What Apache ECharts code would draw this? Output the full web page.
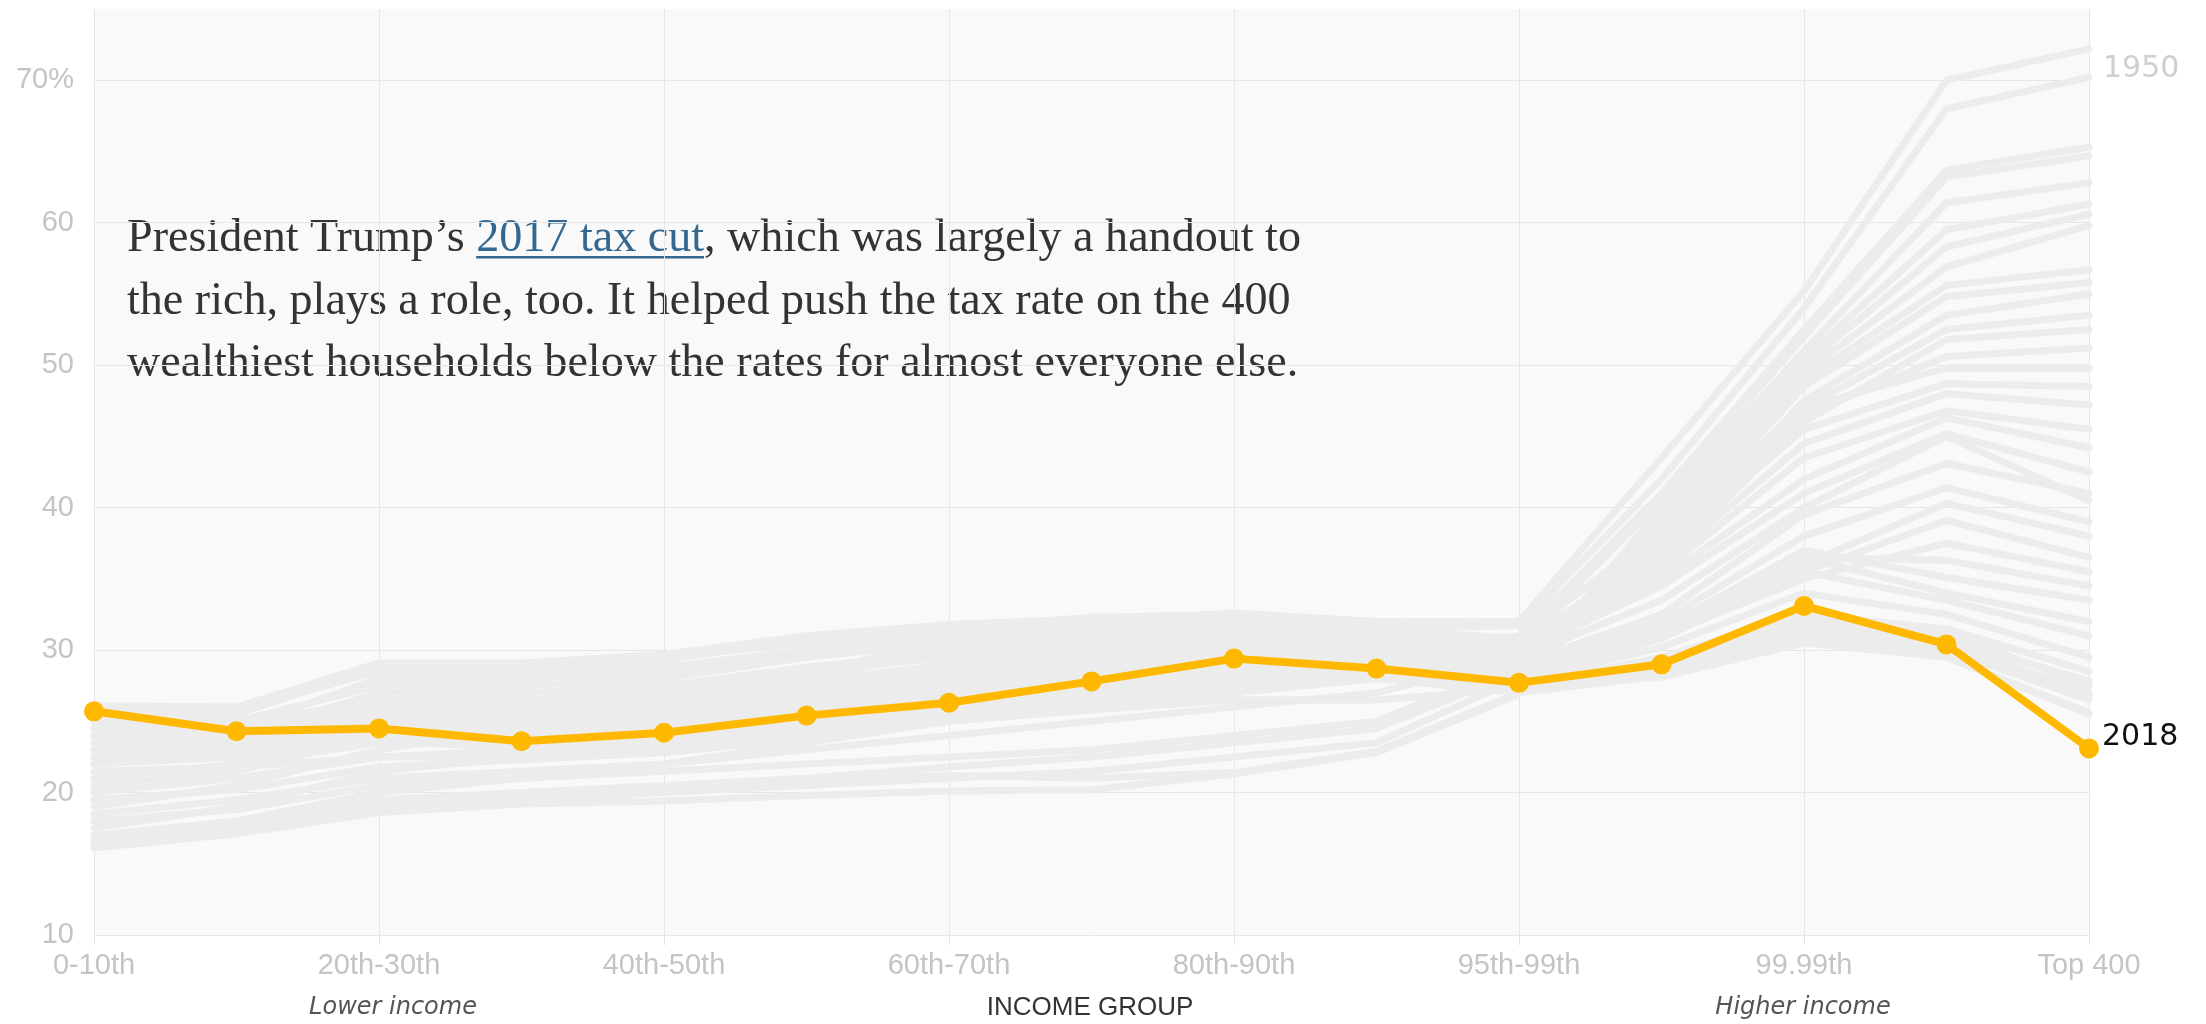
<!DOCTYPE html>
<html>
<head>
<meta charset="utf-8">
<script src="https://cdn.jsdelivr.net/npm/echarts@6/dist/echarts.min.js"></script>
<style>
html,body{margin:0;padding:0;background:#fff;}
#chart{width:2206px;height:1024px;}
</style>
</head>
<body>
<div id="chart"></div>
<script>
// ---- data ----
const categories = ['0-10th','10th-20th','20th-30th','30th-40th','40th-50th','50th-60th','60th-70th','70th-80th','80th-90th','90th-95th','95th-99th','99th-99.9th','99.99th','Top 0.01%','Top 400'];
const yTicks = [10, 20, 30, 40, 50, 60, 70];

const r2018 = [25.7, 24.3, 24.5, 23.6, 24.2, 25.4, 26.3, 27.8, 29.4, 28.7, 27.7, 29.0, 33.1, 30.4, 23.1];

const r1950 = [20.5, 21.5, 24.0, 25.0, 26.5, 28.5, 30.5, 31.5, 32.3, 32.0, 32.0, 43.5, 55.2, 70.0, 72.2];
const r1951 = [19.0, 20.5, 23.0, 24.5, 26.0, 28.0, 30.0, 31.0, 31.8, 31.5, 31.7, 42.0, 54.0, 68.0, 70.2];
const r1952 = [17.5, 19.0, 21.5, 22.5, 23.5, 25.0, 26.5, 27.5, 28.5, 29.5, 31.0, 41.0, 52.5, 63.7, 65.3];
const r1953 = [16.8, 18.0, 20.0, 21.0, 22.0, 23.5, 25.0, 26.0, 27.0, 28.0, 30.5, 40.5, 52.0, 63.2, 64.7];
const r1954 = [16.2, 17.2, 18.8, 19.5, 20.0, 20.5, 21.0, 21.5, 22.5, 23.5, 28.0, 40.0, 51.0, 61.4, 62.8];
const r1955 = [16.5, 17.5, 19.2, 19.8, 20.2, 20.8, 21.2, 21.0, 21.4, 22.9, 27.0, 39.5, 50.5, 59.5, 61.3];
const r1956 = [16.1, 17.1, 18.6, 19.2, 19.4, 19.8, 20.1, 20.2, 21.3, 22.8, 26.9, 39.0, 50.0, 58.3, 60.6];
const r1957 = [17.0, 18.0, 19.5, 20.0, 20.5, 21.0, 21.8, 22.5, 23.5, 24.5, 28.5, 38.5, 49.5, 56.9, 59.8];
const r1958 = [18.0, 18.8, 20.5, 21.0, 21.5, 22.0, 22.5, 23.0, 24.0, 25.0, 29.0, 38.0, 49.0, 55.6, 56.7];
const r1960 = [18.5, 19.5, 21.0, 21.5, 22.0, 23.0, 24.0, 25.0, 26.0, 27.0, 29.5, 37.5, 48.5, 54.8, 55.8];
const r1962 = [19.5, 20.2, 21.8, 22.3, 22.8, 23.8, 25.0, 26.0, 27.0, 28.0, 30.1, 37.0, 47.5, 53.5, 55.0];
const r1964 = [20.0, 21.0, 22.5, 23.0, 23.5, 24.5, 25.5, 26.5, 27.5, 28.5, 29.8, 36.5, 47.0, 52.5, 53.5];
const r1966 = [21.0, 22.0, 23.5, 24.0, 24.5, 25.5, 26.5, 27.5, 28.5, 29.0, 29.6, 36.0, 46.0, 51.8, 52.5];
const r1968 = [22.0, 23.0, 25.0, 25.5, 26.0, 27.5, 28.5, 29.5, 30.5, 30.5, 30.5, 37.0, 46.5, 50.6, 51.2];
const r1970 = [22.5, 23.5, 26.0, 26.5, 27.0, 28.5, 29.5, 30.5, 31.5, 31.5, 30.8, 38.5, 47.0, 49.8, 49.8];
const r1972 = [23.0, 24.0, 27.0, 27.5, 28.0, 29.5, 30.5, 31.5, 32.0, 31.8, 30.2, 37.0, 45.5, 48.7, 48.5];
const r1974 = [24.0, 24.5, 28.0, 28.3, 28.8, 30.0, 31.0, 32.0, 32.6, 32.0, 29.8, 36.0, 44.5, 48.0, 47.2];
const r1976 = [25.0, 25.5, 28.8, 29.0, 29.5, 30.5, 31.5, 32.3, 32.5, 31.5, 30.0, 35.5, 43.5, 46.8, 45.5];
const r1978 = [26.1, 26.0, 29.1, 29.1, 29.7, 31.0, 31.8, 32.2, 32.3, 31.2, 29.5, 35.0, 42.0, 46.3, 44.2];
const r1980 = [25.5, 25.8, 28.5, 28.8, 29.3, 30.8, 31.5, 32.0, 32.0, 31.0, 29.8, 34.5, 41.0, 45.2, 42.5];
const r1982 = [24.5, 25.0, 27.5, 28.0, 28.5, 29.8, 30.8, 31.5, 31.5, 30.5, 29.5, 33.5, 40.0, 45.0, 40.5];
const r1984 = [24.0, 24.5, 26.5, 27.0, 27.5, 28.8, 29.8, 30.5, 31.0, 30.0, 29.0, 32.5, 39.5, 43.1, 41.0];
const r1986 = [23.5, 24.0, 25.5, 26.0, 26.5, 27.8, 29.0, 30.0, 30.5, 29.8, 28.8, 32.0, 38.0, 41.4, 39.0];
const r1988 = [23.0, 23.5, 24.5, 24.5, 25.0, 26.0, 27.0, 28.0, 29.0, 29.0, 28.5, 31.5, 36.0, 40.3, 38.0];
const r1990 = [22.5, 23.0, 24.0, 23.8, 24.3, 25.5, 26.5, 27.5, 28.5, 28.5, 28.5, 31.0, 35.5, 39.1, 36.5];
const r1992 = [22.0, 22.5, 23.5, 23.3, 24.0, 25.0, 26.0, 27.0, 28.0, 28.0, 28.3, 31.0, 35.0, 37.5, 35.5];
const r1994 = [23.0, 23.5, 25.0, 25.0, 25.5, 26.5, 27.5, 28.5, 29.5, 29.0, 28.5, 31.5, 36.5, 36.3, 34.5];
const r1996 = [23.5, 24.0, 25.5, 25.5, 26.0, 27.0, 28.0, 29.0, 30.0, 29.5, 28.4, 31.5, 37.0, 35.1, 33.5];
const r1998 = [24.0, 24.5, 26.0, 25.5, 26.0, 27.0, 28.0, 29.0, 30.0, 29.5, 28.2, 31.2, 36.5, 34.0, 32.0];
const r2000 = [24.5, 24.8, 26.5, 26.0, 26.5, 27.5, 28.5, 29.5, 30.5, 30.0, 28.0, 30.8, 35.5, 33.5, 31.0];
const r2002 = [22.5, 22.8, 23.8, 23.0, 23.8, 25.0, 26.0, 27.0, 28.0, 28.0, 27.8, 30.2, 34.0, 32.5, 29.5];
const r2004 = [23.0, 23.0, 24.0, 23.2, 24.0, 25.2, 26.2, 27.0, 28.2, 28.0, 27.5, 29.5, 32.5, 31.5, 28.5];
const r2006 = [23.5, 23.5, 24.3, 23.5, 24.2, 25.3, 26.3, 27.3, 28.5, 28.3, 27.4, 29.0, 32.0, 31.2, 27.5];
const r2008 = [24.0, 23.8, 24.5, 23.8, 24.3, 25.5, 26.5, 27.5, 28.8, 28.5, 27.2, 28.5, 31.5, 30.5, 27.0];
const r2010 = [21.5, 21.8, 22.5, 22.5, 23.0, 24.0, 25.0, 25.8, 26.5, 26.5, 27.3, 28.5, 31.0, 30.0, 26.5];
const r2012 = [24.5, 24.0, 24.3, 23.5, 24.0, 25.0, 26.0, 27.0, 28.3, 28.0, 27.0, 28.2, 30.8, 29.5, 25.5];
const r2014 = [25.0, 24.5, 25.0, 24.0, 24.5, 25.5, 26.5, 27.8, 29.0, 28.5, 27.3, 28.4, 31.5, 30.8, 27.8];
const r2016 = [25.5, 24.8, 25.2, 24.2, 24.8, 25.8, 26.8, 28.0, 29.3, 28.6, 27.4, 28.2, 31.0, 30.2, 26.8];
const r2017 = [25.8, 25.0, 25.3, 24.3, 24.8, 25.8, 26.8, 28.0, 29.5, 28.8, 27.5, 28.1, 30.5, 29.5, 25.6];

const grayYears = ['1950','1951','1952','1953','1954','1955','1956','1957','1958','1960','1962','1964','1966','1968','1970','1972','1974','1976','1978','1980','1982','1984','1986','1988','1990','1992','1994','1996','1998','2000','2002','2004','2006','2008','2010','2012','2014','2016','2017'];
const grayRates = [r1950,r1951,r1952,r1953,r1954,r1955,r1956,r1957,r1958,r1960,r1962,r1964,r1966,r1968,r1970,r1972,r1974,r1976,r1978,r1980,r1982,r1984,r1986,r1988,r1990,r1992,r1994,r1996,r1998,r2000,r2002,r2004,r2006,r2008,r2010,r2012,r2014,r2016,r2017];

const noteLine1a = 'President Trump\u2019s ';
const noteLink = '2017 tax cut';
const noteLine1b = ', which was largely a handout to';
const noteLine2 = 'the rich, plays a role, too. It helped push the tax rate on the 400';
const noteLine3 = 'wealthiest households below the rates for almost everyone else.';

// ---- styling / layout ----
const GRAY = '#ececec';
const ORANGE = '#ffb800';
const LABEL = '#c4c4c4';
const SERIF = '"Liberation Serif", "DejaVu Serif", serif';

const cv = document.createElement('canvas').getContext('2d');
function tw(txt, size) { cv.font = size + 'px ' + SERIF; return cv.measureText(txt).width; }
const baseSize = 40;
const fullW = tw(noteLine1a + noteLink + noteLine1b, baseSize);
const noteSize = Math.round(baseSize * 1175 / fullW * 10) / 10;
const noteX = 127;
const w1a = tw(noteLine1a, noteSize);
const wLink = tw(noteLink, noteSize);
const noteFont = noteSize + 'px ' + SERIF;

function txt(x, y, s, font, fill, align) {
  return { type: 'text', x: x, y: y, silent: true,
    style: { text: s, font: font, fill: fill, textAlign: align || 'left', textVerticalAlign: 'middle', align: align || 'left', verticalAlign: 'middle' } };
}

const series = grayRates.map((vals, k) => ({
  name: grayYears[k],
  type: 'line',
  data: vals,
  silent: true,
  showSymbol: false,
  symbol: 'none',
  z: 2,
  lineStyle: { color: GRAY, width: 7, cap: 'round', join: 'round' },
  itemStyle: { color: GRAY },
  emphasis: { disabled: true },
  endLabel: grayYears[k] === '1950' ? {
    show: true, formatter: '1950', color: '#cfcfcf', fontSize: 30,
    fontFamily: 'DejaVu Sans', distance: 14, offset: [0, 20]
  } : { show: false }
}));

series.push({
  name: '2018',
  type: 'line',
  data: r2018,
  z: 5,
  symbol: 'circle',
  symbolSize: 20,
  showSymbol: true,
  lineStyle: { color: ORANGE, width: 8 },
  itemStyle: { color: ORANGE },
  emphasis: { disabled: true },
  endLabel: { show: true, formatter: '2018', color: '#111', fontSize: 30, fontFamily: 'DejaVu Sans', distance: 13, offset: [0, -11] }
});

const chart = echarts.init(document.getElementById('chart'), null, { renderer: 'canvas' });
chart.setOption({
  animation: false,
  backgroundColor: '#ffffff',
  grid: { left: 94, right: 117, top: 9, bottom: 89, show: true, backgroundColor: '#f9f9f9', borderWidth: 0 },
  xAxis: {
    type: 'category',
    data: categories,
    boundaryGap: false,
    axisLine: { show: false },
    axisTick: { show: true, interval: 1, length: 10, lineStyle: { color: '#e3e3e3', width: 1 } },
    axisLabel: { interval: 1, color: LABEL, fontSize: 29, fontFamily: 'Liberation Sans', margin: 16 },
    splitLine: { show: true, interval: 1, lineStyle: { color: '#e6e6e6', width: 1 } }
  },
  yAxis: {
    type: 'value',
    min: yTicks[0],
    max: 75,
    interval: 10,
    axisLine: { show: false },
    axisTick: { show: false },
    axisLabel: {
      color: LABEL, fontSize: 29, fontFamily: 'Liberation Sans', margin: 20,
      formatter: v => (v === yTicks[yTicks.length - 1] ? v + '%' : (yTicks.indexOf(v) >= 0 ? String(v) : ''))
    },
    splitLine: { show: true, lineStyle: { color: ['#e6e6e6','#e6e6e6','#e6e6e6','#e6e6e6','#e6e6e6','#e6e6e6','#e6e6e6','rgba(0,0,0,0)'], width: 1 } }
  },
  series: series,
  graphic: [
    txt(noteX, 239, noteLine1a, noteFont, '#333333'),
    txt(noteX + w1a, 239, noteLink, noteFont, '#326891'),
    txt(noteX + w1a + wLink, 239, noteLine1b, noteFont, '#333333'),
    { type: 'rect', silent: true, shape: { x: noteX + w1a, y: 256, width: wLink, height: 2.5 }, style: { fill: '#326891' } },
    txt(noteX, 302, noteLine2, noteFont, '#333333'),
    txt(noteX, 364, noteLine3, noteFont, '#333333'),
    txt(393, 1008, 'Lower income', 'italic 24px "DejaVu Sans"', '#555555', 'center'),
    txt(1090, 1008, 'INCOME GROUP', '26px "Liberation Sans"', '#333333', 'center'),
    txt(1803, 1008, 'Higher income', 'italic 24px "DejaVu Sans"', '#555555', 'center')
  ]
});
</script>
</body>
</html>
